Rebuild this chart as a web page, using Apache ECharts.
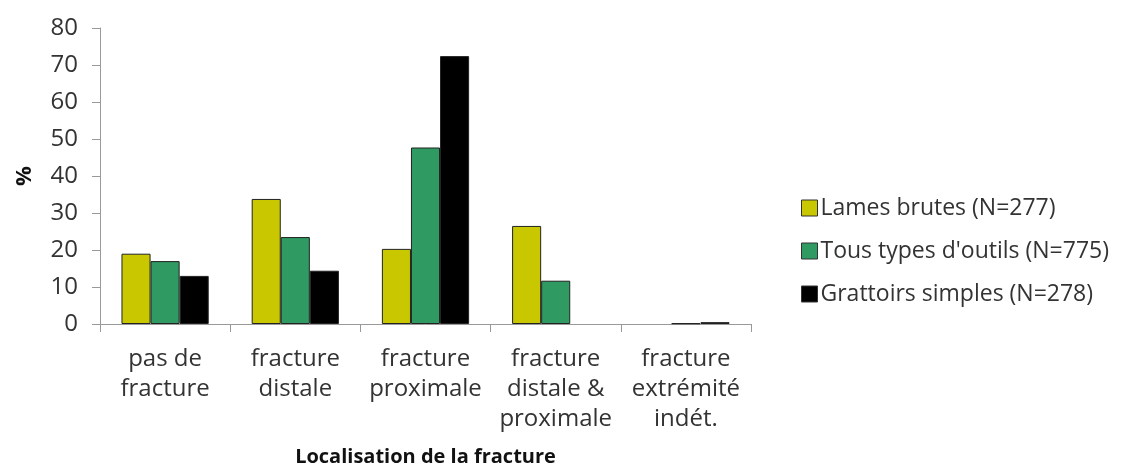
<!DOCTYPE html>
<html><head><meta charset="utf-8">
<script src="https://cdn.jsdelivr.net/npm/echarts@6/dist/echarts.min.js"></script>
<style>html,body{margin:0;padding:0;background:#fff}#c{width:1128px;height:465px}</style>
</head><body><div id="c"></div>
<script>
const categories = ['pas de\nfracture', 'fracture\ndistale', 'fracture\nproximale', 'fracture\ndistale &\nproximale', 'fracture\nextrémité\nindét.'];
const seriesNames = ['Lames brutes (N=277)', "Tous types d'outils (N=775)", 'Grattoirs simples (N=278)'];
const lamesBrutes = [19, 33.8, 20.3, 26.5, 0];
const tousTypes = [17, 23.5, 47.7, 11.7, 0.2];
const grattoirs = [13, 14.4, 72.4, 0, 0.5];
const yTicks = { min: 0, max: 80, interval: 10 };

const colors = ['#c9c800', '#2f9a62', '#000000'];
const font = '"Open Sans", sans-serif';
const chart = echarts.init(document.getElementById('c'));
const data = [lamesBrutes, tousTypes, grattoirs];
const toBarData = arr => arr.map(v => v === 0 ? { value: 0, itemStyle: { borderWidth: 0 } } : v);
chart.setOption({
  animation: false,
  textStyle: { fontFamily: font },
  grid: { left: 100, right: 377, top: 28, bottom: 141, containLabel: false, outerBoundsMode: 'none' },
  legend: {
    orient: 'vertical', left: 796, top: 190, itemGap: 17,
    itemWidth: 16, itemHeight: 16, icon: 'rect',
    textStyle: { fontSize: 23, color: '#333', fontFamily: font, lineHeight: 26, padding: [0, 0, 0, -2] },
    itemStyle: { borderColor: '#333', borderWidth: 1 }
  },
  xAxis: {
    type: 'category', data: categories,
    name: 'Localisation de la fracture', nameLocation: 'middle', nameGap: 123,
    nameTextStyle: { fontSize: 20, fontWeight: 'bold', color: '#111', fontFamily: font },
    axisLine: { lineStyle: { color: '#999' } },
    axisTick: { show: true, length: 8, lineStyle: { color: '#999' } },
    axisLabel: { interval: 0, fontSize: 24, lineHeight: 30, margin: 20, color: '#333', fontFamily: font }
  },
  yAxis: {
    type: 'value', min: yTicks.min, max: yTicks.max, interval: yTicks.interval,
    name: '%', nameLocation: 'middle', nameGap: 64, nameRotate: 90,
    nameTextStyle: { fontSize: 22, fontWeight: 'bold', color: '#111', fontFamily: font },
    axisLine: { show: true, lineStyle: { color: '#999' } },
    axisTick: { show: true, length: 8, lineStyle: { color: '#999' } },
    splitLine: { show: false },
    axisLabel: { fontSize: 24, margin: 22, color: '#333', fontFamily: font }
  },
  series: seriesNames.map((n, i) => ({
    name: n, type: 'bar', data: toBarData(data[i]), barGap: '0%', barCategoryGap: '33%',
    itemStyle: { color: colors[i], borderColor: '#222', borderWidth: 1 }
  }))
});
</script></body></html>
